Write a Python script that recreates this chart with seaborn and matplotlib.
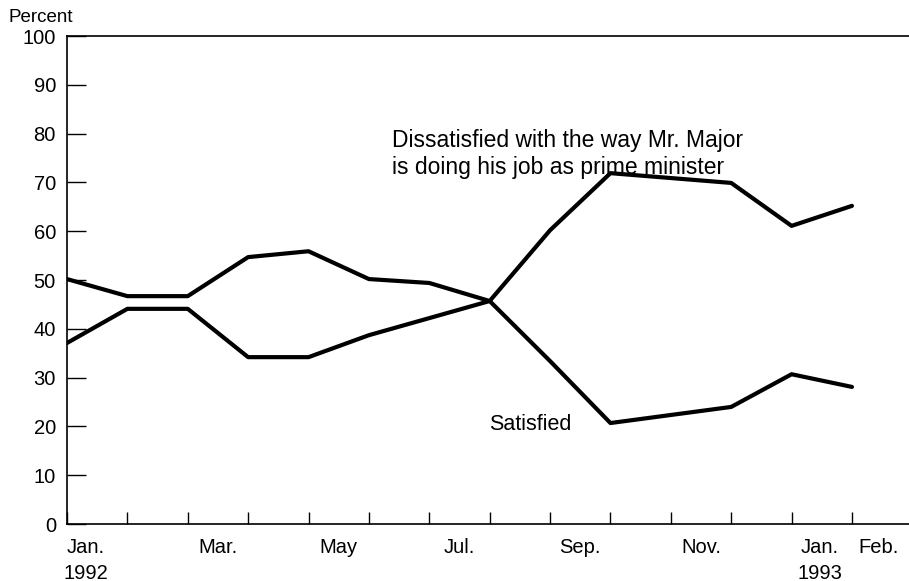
import matplotlib
matplotlib.use("Agg")
import matplotlib.pyplot as plt
import pandas as pd
import seaborn as sns

sns.set_theme(style="white")
plt.rcParams["font.family"] = ["Liberation Sans", "DejaVu Sans"]
plt.rcParams["text.color"] = "black"
plt.rcParams["xtick.color"] = "black"
plt.rcParams["ytick.color"] = "black"

# month index, 0 = Jan. 1992 (no survey in Nov.)
MONTH = [0, 1, 2, 3, 4, 5, 6, 7, 8, 9, 11, 12, 13]
DISSATISFIED = [50.2, 46.7, 46.7, 54.7, 55.9, 50.2, 49.4, 45.7, 60.2, 71.9, 69.9, 61.1, 65.2]
SATISFIED = [37.1, 44.1, 44.1, 34.2, 34.2, 38.7, 42.2, 45.7, 33.4, 20.7, 24.0, 30.7, 28.1]

TICK_MONTHS = list(range(14))
LABEL_POS = [0.31, 2.5, 4.5, 6.5, 8.5, 10.5, 12.47, 13.44]
LABELS = ["Jan.\n1992", "Mar.", "May", "Jul.", "Sep.", "Nov.", "Jan.\n1993", "Feb."]
Y_TICKS = list(range(0, 101, 10))

df = pd.DataFrame({
    "month": MONTH * 2,
    "pct": DISSATISFIED + SATISFIED,
    "series": ["Dissatisfied"] * len(MONTH) + ["Satisfied"] * len(MONTH),
})

fig = plt.figure(figsize=(9.09, 5.81), dpi=100)
ax = fig.add_axes([0.0737, 0.098, 0.926, 0.840])

sns.lineplot(data=df, x="month", y="pct", units="series", estimator=None,
             color="black", linewidth=3.0, legend=False, ax=ax)

ax.set_xlim(0, 13.94)
ax.set_ylim(0, 100)
ax.set_xlabel("")
ax.set_ylabel("")

ax.set_yticks(Y_TICKS)
ax.set_yticklabels([str(v) for v in Y_TICKS], fontsize=14.5)
ax.tick_params(axis="y", left=True, direction="in", length=14, width=1, pad=8, color="black")

ax.set_xticks(TICK_MONTHS)
ax.set_xticklabels([])
ax.set_xticks(LABEL_POS, minor=True)
ax.set_xticklabels(LABELS, minor=True, fontsize=14.5, linespacing=1.45)
ax.tick_params(axis="x", which="major", bottom=True, direction="in", length=9, width=1, color="black")
ax.tick_params(axis="x", which="minor", bottom=True, length=0, pad=10)

for s in ["left", "bottom", "top"]:
    ax.spines[s].set_color("black")
    ax.spines[s].set_linewidth(1.2)
ax.spines["right"].set_visible(False)

ax.text(5.38, 75.8, "Dissatisfied with the way Mr. Major\nis doing his job as prime minister",
        fontsize=16.5, ha="left", va="center", linespacing=1.2)
ax.text(6.99, 20.3, "Satisfied", fontsize=15.5, ha="left", va="center")
fig.text(0.009, 0.97, "Percent", fontsize=13.5, ha="left", va="center")

plt.savefig("out.png", dpi=100)
